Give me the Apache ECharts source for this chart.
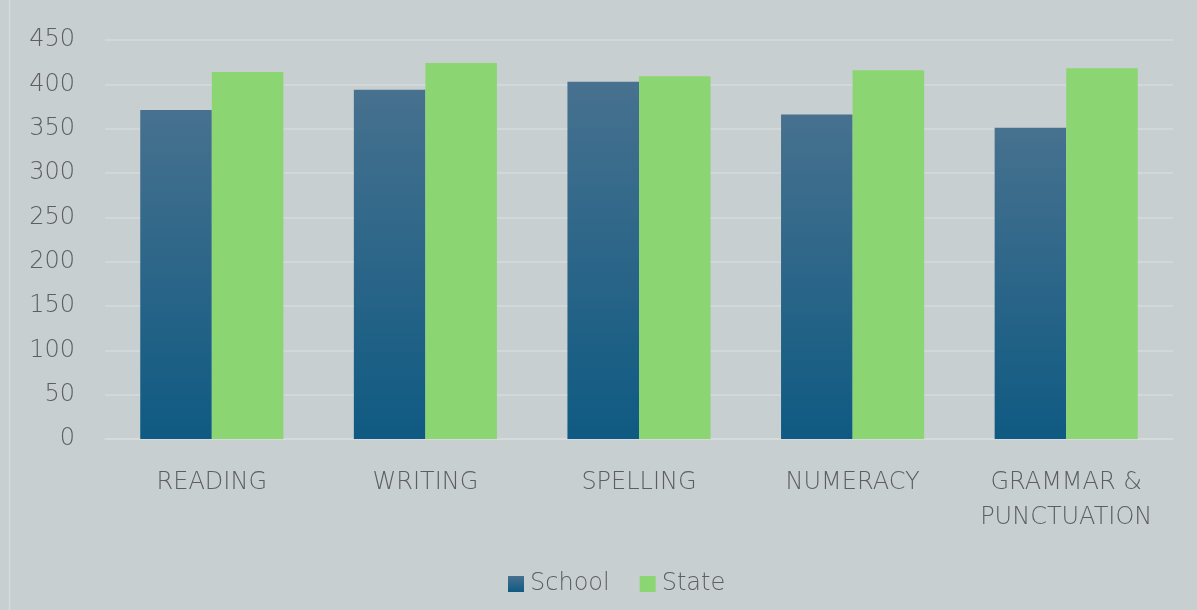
<!DOCTYPE html>
<html><head><meta charset="utf-8">
<script src="https://cdn.jsdelivr.net/npm/echarts@6/dist/echarts.min.js"></script>
<style>html,body{margin:0;padding:0;background:#c8cfd1;}#c{width:1197px;height:610px;}</style>
</head><body><div id="c"></div>
<script>
const categories = ['READING', 'WRITING', 'SPELLING', 'NUMERACY', 'GRAMMAR &\nPUNCTUATION'];
const schoolValues = [371, 394, 403, 366, 351];
const stateValues = [414, 424, 409, 416, 418];
const yTicks = [0, 50, 100, 150, 200, 250, 300, 350, 400, 450];

const FONT = 'DejaVu Sans';
const chart = echarts.init(document.getElementById('c'));
chart.setOption({
  backgroundColor: '#c8cfd1',
  animation: false,
  textStyle: { fontFamily: FONT },
  graphic: [{ type: 'line', shape: { x1: 9.5, y1: 0, x2: 9.5, y2: 610 }, style: { stroke: '#d6dbdc', lineWidth: 1.5 } }],
  grid: { left: 105, right: 24, top: 40, bottom: 171 },
  legend: {
    bottom: 9, left: 503, itemWidth: 16, itemHeight: 16, itemGap: 30,
    icon: 'rect',
    textStyle: { fontSize: 24, color: '#5e5e5e', fontFamily: FONT, fontWeight: 200, padding: [0, 0, 0, 1] },
    data: ['School', 'State']
  },
  xAxis: {
    type: 'category', data: categories,
    axisLine: { lineStyle: { color: '#d6dbdc', width: 1.5 } },
    axisTick: { show: false },
    axisLabel: { fontSize: 24, color: '#5e5e5e', fontWeight: 200, margin: 26, lineHeight: 35, interval: 0, fontFamily: FONT }
  },
  yAxis: {
    type: 'value', min: yTicks[0], max: yTicks[yTicks.length - 1], interval: 50,
    axisLine: { show: false }, axisTick: { show: false },
    axisLabel: { fontSize: 24, color: '#5e5e5e', fontWeight: 200, margin: 30, fontFamily: FONT },
    splitLine: { lineStyle: { color: '#d6dbdc', width: 1.5 } }
  },
  series: [
    { name: 'School', type: 'bar', data: schoolValues, barGap: '0%', barCategoryGap: '33%',
      itemStyle: { color: new echarts.graphic.LinearGradient(0, 0, 0, 1, [
        { offset: 0, color: '#47718f' }, { offset: 1, color: '#0f5a82' }]) } },
    { name: 'State', type: 'bar', data: stateValues,
      itemStyle: { color: '#8bd672' } }
  ]
});
</script></body></html>
